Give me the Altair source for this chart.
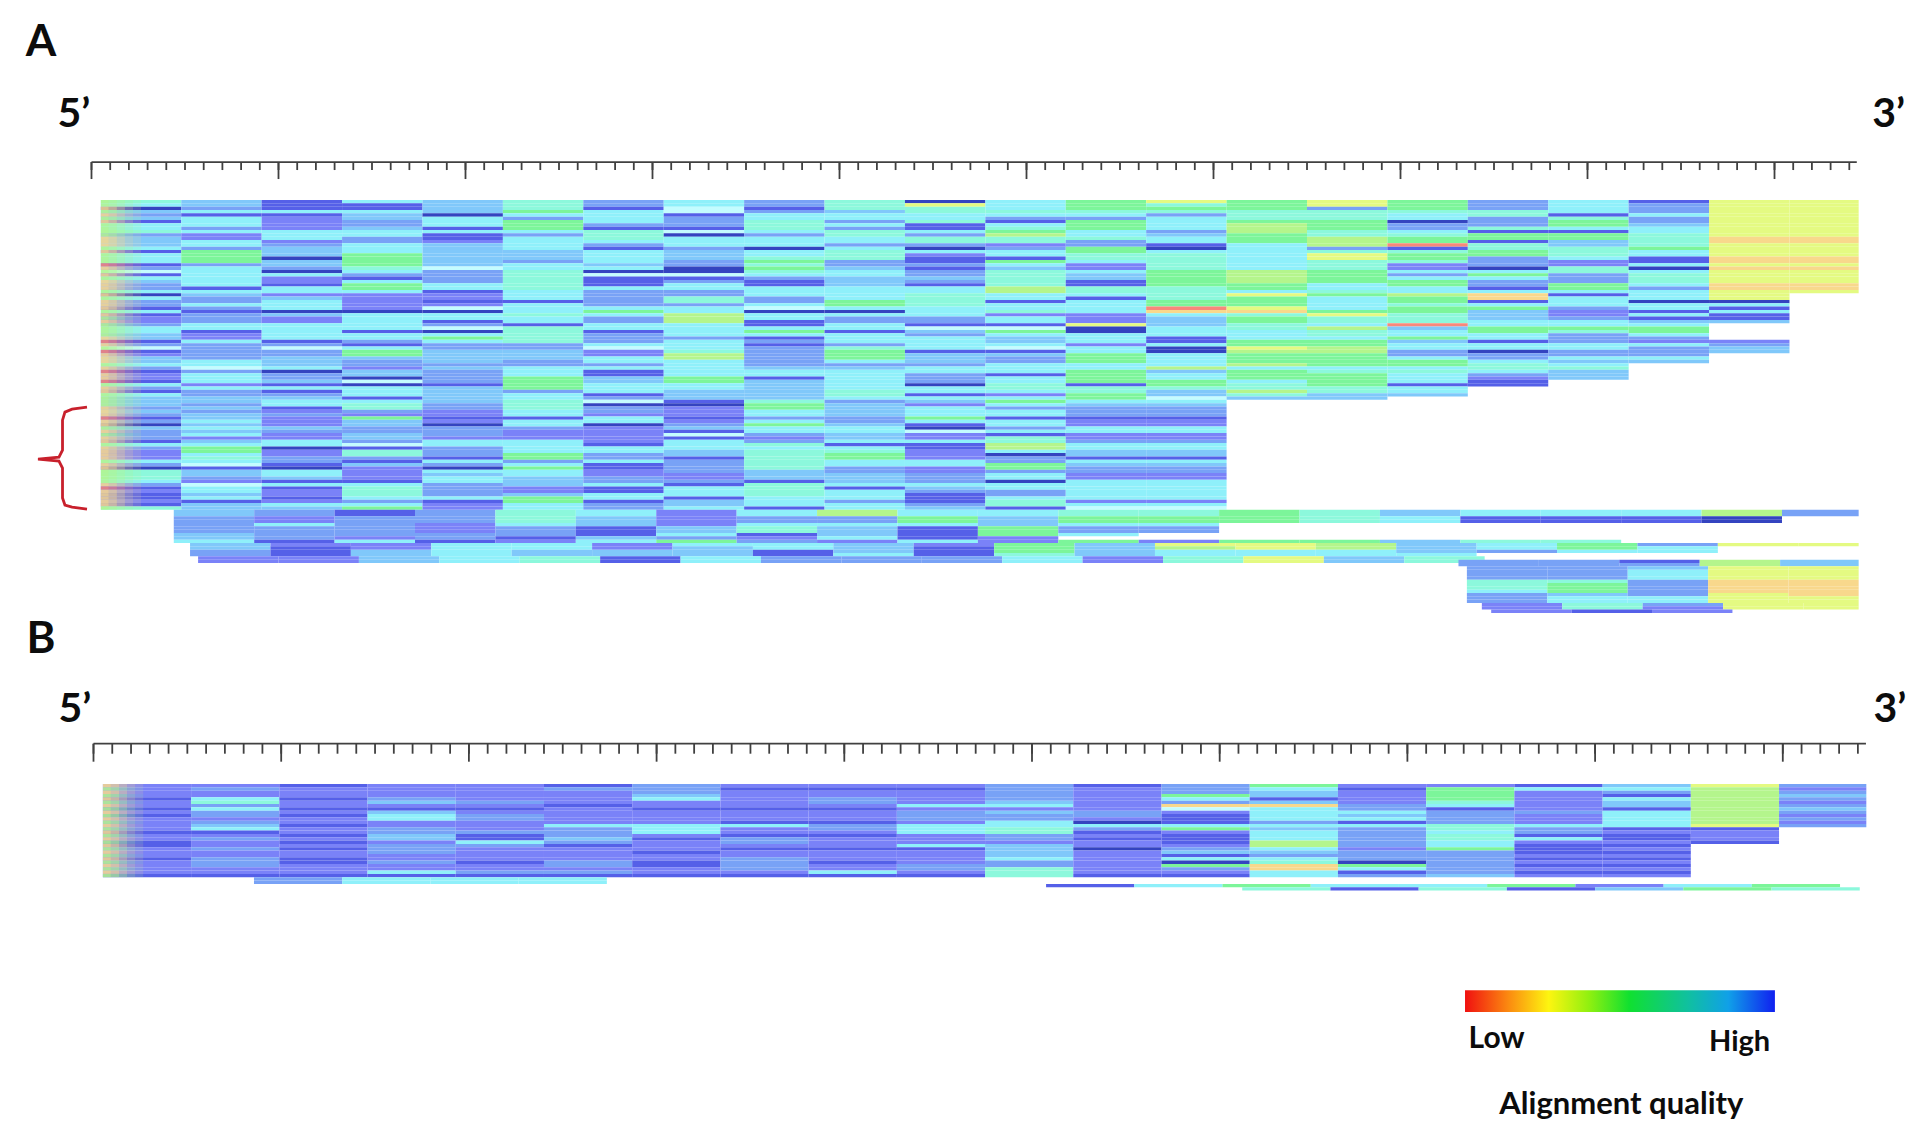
import altair as alt
import pandas as pd

alt.data_transformers.disable_max_rows()

# ---- alignment quality classes (low = warm, high = deep blue); x = no sequence
QUALITY = {"b": 0, "a": 1, "9": 2, "8": 3, "7": 4, "6": 5, "w": 6, "5": 7, "4": 8, "3": 9, "2": 10, "1": 11, "0": 12}
QUALITY_COLORS = ["#f8887a", "#f8d88c", "#e4fa82", "#b4f58c", "#7cf59a", "#8cf8dc", "#c4fcff",
                  "#8ff0fa", "#80c8fa", "#78a2f6", "#7a82f8", "#5560e8", "#3444c0"]

# ---- panel A: one string per alignment column, one character per sequence row
A_COLS = [
 "6504341556 3444515551 3w15433505 3315122355 4413w12445 3122153154 4434313043 3315322253 0666531211216",
 "4435155535 2255377773 5555551543 3531333551 2253333355 w355525334 4343445454 524577565w 14432w5545144",
 "1115122225 5523444044 3052215524 5550422555 5513w33444 5033415134 5512322243 2255022331 0554151221254",
 "5115443345 5335557777 6531577522 2220555551 5531577433 2440w05551 5663274433 443w166314 2222156665357",
 "4444055515 1124444444 w333355122 12w05513w0 5753344443 4333314444 4332212033 3255333153 0545533335122",
 "6667537775 3555544435 5666666555 1555655166 6663344433 5557777355 6665515532 2255557735 7554442247755",
 "3315555316 6653155554 50w1115333 3357533551 3335w22553 5114455513 w033255022 2221553351 1223351155133",
 "55ww13331w 0555344433 00w1355336 6355888555 5355568855 5557755444 1022212341 w155544133 3322315551445",
 "3313556665 3555055676 7653115553 35w0551157 5131333333 4551444444 6775535755 3236566666 6444166665551",
 "6664553536 6553566633 4554445555 7750533551 5553677753 4555555665 3444433455 4451567755 3344451555355",
 "0966556115 3663052113 1334315566 66555331w4 3555514443 5533305515 425557510w 2251122255 2233354311134",
 "5556531567 8662355175 4666668855 15562551w7 5445w14335 5515566525 7535515535 1668850337 7355055335661",
 "7776537775 5633776652 2544116651 5555222900 5552557775 5777716677 5433312255 2235544154 332255555525w",
 "9676355553 4551056666 6777776666 77ba544455 5115005555 845577644w 5433312255 2235544154 332255555525w",
 "7776667888 7775555555 5888877597 779a677665 5577987778 5777566864",
 "9936667776 6888369966 6777755675 5557966586 6577887777 5677776644",
 "7776550335 677b167762 2535775587 7677666b45 5745533577 565551554",
 "3336633361 7716677333 05753315aa 1574445577 5515503356 653211",
 "5555167751 7744666522 6633377515 5532235576 3335533545 6444",
 "1333533455 6666755115 0566653555 0551514577 532533354",
 "9999999999 9aa9999aa9 a9999aa999 0515114xxx xx2344",
 "9999999999 9aa9999aa9 a9999aa9",
]
A_COL_START = 5
A_COL_WIDTH = 43
A_END = 945

# colour cast at the 5' end of each row of the first column
A_FADE = "88a8a8a888 8aaa8a888b a8a8aaa8a8 aaa8a8a888 8aba8baaa8 abaab8aa88 88aaabaa8a 8aa8aaaa8a a8888abaaaaa8"
FADE_OPACITY = [0.85, 0.7, 0.5, 0.3, 0.15]
FADE_STEP = 4.3

# partial sequences below the main block: row, start position, qualities
A_TAIL_ROWS = [93, 94, 95, 96, 97, 98, 99, 100, 101, 102,
               103, 104, 105, 106, 107, 108,
               108, 109, 110, 111, 112, 113, 114, 115, 116, 117, 118, 119, 120, 121, 122, 123]
A_TAIL_STARTS = [44, 44, 44, 44, 44, 44, 44, 44, 44, 44,
                 52.7, 52.7, 52.7, 52.7, 57, 57,
                 731, 731, 735.5, 735.5, 735.5, 735.5, 735.5, 735.5, 735.5, 735.5, 735.5, 735.5, 735.5,
                 743.5, 743.5, 748.5]
A_TAIL_QUALITY = [
 "4313652585 5667645558 3", "4313652585 5667645558 3",
 "3233642337 4777651110", "3233642337 4777651110",
 "3532542555 455",
 "3332314641 733", "3332314641 733",
 "4333315141 75", "4323143251 2",
 "5151257325 27277466",
 "4225525542 7499845739 9", "4125524541 748984575",
 "3145444141 745554355", "3145444151 645555",
 "2245615333 526946", "2245615333 526946",
 "33184", "33384",
 "33499", "33599", "33599", "33599",
 "663aa", "673aa", "673aa", "573aa",
 "3439a", "35599", "35599",
 "26399", "26299", "212",
]

# ---- panel B
B_COLS = [
 "2222122121 2222122112 22122221",
 "2322563533 2345123223 22333221",
 "1222122121 2212212121 22112221",
 "2222342145 5223344233 32232251",
 "2222232123 3222311532 22212231",
 "1322221222 2253334312 22233231",
 "3334522122 2255521222 12211221",
 "2122222122 2152213321 22333321",
 "2122332122 2133212221 22212251",
 "2122225233 3255522251 22223321",
 "3333345243 3556633244 44533666",
 "1222222233 2053121220 22222221",
 "333753aw21 1157211123 41507321",
 "754414a555 5354555885 4356aa55",
 "2122223354 5153333332 33307513",
 "2777765133 3366566557 33333334",
 "1522222232 2253315211 12121212",
 "4531544155 5551211212 12121212",
 "9888888888 88912221",
 "3234323432 323",
]
B_COL_START = 5
B_COL_WIDTH = 47
B_END = 944.5
B_FADE = "a8a8a8a8a8 a8a8a8a8a8 a8a8a8a8"
B_TAIL_ROWS = [28, 29, 30, 31]
B_TAIL_STARTS = [85.5, 85.5, 507.5, 612]
B_TAIL_QUALITY = ["3555", "3555", "157557257", "6161476"]

# ---- rulers
TICK_MINOR = list(range(0, 950, 10))
TICK_MAJOR = list(range(0, 950, 100))

# ---- curly bracket in panel A
BRACE_X = [-2.4, -10.4, -14.2, -15.5, -15.5, -17.4, -28.6, -17.4, -15.5, -15.5, -14.2, -10.4, -2.4]
BRACE_Y = [62.2, 62.8, 63.7, 66.1, 75.1, 77.2, 77.8, 78.4, 80.5, 89.5, 91.6, 92.2, 92.8]

LEGEND_STOPS = [(0, "#f01010"), (0.14, "#fb8a10"), (0.27, "#fdf510"), (0.40, "#90f010"), (0.53, "#10e030"),
                (0.72, "#10c0a0"), (0.85, "#10a0e8"), (1, "#1020f0")]


def cells(cols, start, width, end):
    out = []
    for k, s in enumerate(cols):
        for i, ch in enumerate(s.replace(" ", "")):
            if ch == "x":
                continue
            out.append({"x": start + k * width, "x2": min(start + (k + 1) * width, end),
                        "y": i, "y2": i + 1, "q": QUALITY[ch]})
    return out


def tail(rows, starts, quals, width, end):
    out = []
    for r, st, s in zip(rows, starts, quals):
        for k, ch in enumerate(s.replace(" ", "")):
            out.append({"x": st + k * width, "x2": min(st + (k + 1) * width, end),
                        "y": r, "y2": r + 1, "q": QUALITY[ch]})
    return out


def fade(s, start):
    out = []
    for i, ch in enumerate(s.replace(" ", "")):
        for j, o in enumerate(FADE_OPACITY):
            out.append({"x": start + j * FADE_STEP, "x2": start + (j + 1) * FADE_STEP,
                        "y": i, "y2": i + 1, "q": QUALITY[ch], "o": o})
    return out


def panel(heat, fades, xdom, ydom, height, ruler_y, minor_y, major_y, end, labels, extra=None):
    sx = alt.Scale(domain=xdom, nice=False, zero=False)
    sy = alt.Scale(domain=ydom, nice=False, zero=False, reverse=True)
    X = alt.X("x:Q", scale=sx, axis=None)
    Y = alt.Y("y:Q", scale=sy, axis=None)
    color = alt.Color("q:Q", legend=None,
                      scale=alt.Scale(domain=list(range(len(QUALITY_COLORS))), range=QUALITY_COLORS))
    layers = [
        alt.Chart(pd.DataFrame(heat)).mark_rect(strokeWidth=0).encode(X, Y, x2="x2:Q", y2="y2:Q", color=color),
        alt.Chart(pd.DataFrame(fades)).mark_rect(strokeWidth=0).encode(
            X, Y, x2="x2:Q", y2="y2:Q", color=color, opacity=alt.Opacity("o:Q", scale=None)),
        alt.Chart(pd.DataFrame({"x": [0], "x2": [end], "y": [ruler_y]})).mark_rule(color="#404040", strokeWidth=1.8)
        .encode(X, Y, x2="x2:Q"),
        alt.Chart(pd.DataFrame({"x": TICK_MINOR, "y": ruler_y, "y2": minor_y})).mark_rule(color="#404040", strokeWidth=1.8)
        .encode(X, Y, y2="y2:Q"),
        alt.Chart(pd.DataFrame({"x": TICK_MAJOR, "y": ruler_y, "y2": major_y})).mark_rule(color="#404040", strokeWidth=1.8)
        .encode(X, Y, y2="y2:Q"),
    ]
    for t, x, y, size in labels:
        layers.append(alt.Chart(pd.DataFrame({"x": [x], "y": [y], "t": [t]}))
                      .mark_text(font="Lato", fontWeight="bold", fontSize=size, color="#0c0c0c", baseline="middle", align="center")
                      .encode(X, Y, text="t:N"))
    if extra:
        layers += [e(X, Y) for e in extra]
    return alt.layer(*layers).properties(width=1909, height=height)


def brace(X, Y):
    d = pd.DataFrame({"x": BRACE_X, "y": BRACE_Y, "n": range(len(BRACE_X))})
    return alt.Chart(d).mark_line(color="#c8202c", strokeWidth=2.8).encode(X, Y, order="n:Q")


def legend_bar(X, Y):
    d = pd.DataFrame({"x": [730.7], "x2": [895.8], "y": [61.9], "y2": [68.5]})
    grad = alt.LinearGradient(gradient="linear", x1=0, x2=1, y1=0, y2=0,
                              stops=[alt.GradientStop(offset=o, color=c) for o, c in LEGEND_STOPS])
    return alt.Chart(d).mark_rect(fill=grad, strokeWidth=0).encode(X, Y, x2="x2:Q", y2="y2:Q")


chart_a = panel(
    cells(A_COLS, A_COL_START, A_COL_WIDTH, A_END) + tail(A_TAIL_ROWS, A_TAIL_STARTS, A_TAIL_QUALITY, A_COL_WIDTH, A_END),
    fade(A_FADE, A_COL_START),
    [-44.65, 976.2], [-57.66, 125.52], 610, -11.4, -9.0, -6.3, 944,
    [("A", -27, -47.2, 44), ("5\u2019", -9.4, -25.6, 41), ("3\u2019", 961, -25.6, 41)],
    extra=[brace],
)

chart_b = panel(
    cells(B_COLS, B_COL_START, B_COL_WIDTH, B_END) + tail(B_TAIL_ROWS, B_TAIL_STARTS, B_TAIL_QUALITY, B_COL_WIDTH, B_END),
    fade(B_FADE, B_COL_START),
    [-45.55, 971.5], [-49.25, 100.9], 500, -12.1, -9.1, -6.7, 944.3,
    [("B", -28, -43.2, 44), ("5\u2019", -9.9, -22.1, 41), ("3\u2019", 957, -22.1, 41),
     ("Low", 747.5, 76.5, 30), ("High", 877, 77.4, 29), ("Alignment quality", 814, 96.5, 31)],
    extra=[legend_bar],
)

chart = alt.vconcat(chart_a, chart_b, spacing=0).properties(padding=0).configure_view(stroke=None)
chart.save("out.html", embed_options={"renderer": "svg", "actions": False})
